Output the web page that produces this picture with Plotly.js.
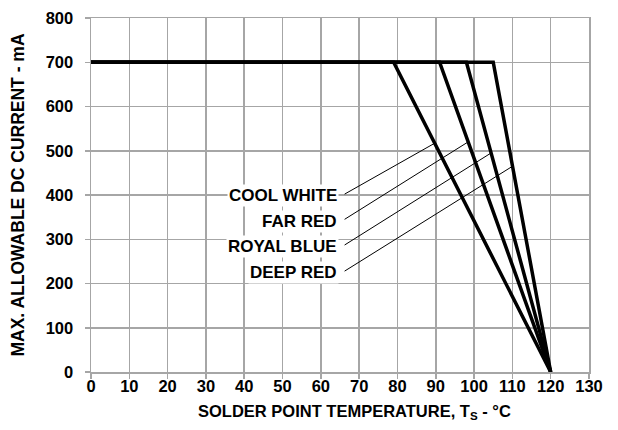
<!DOCTYPE html>
<html>
<head>
<meta charset="utf-8">
<script src="https://cdn.plot.ly/plotly-3.0.1.min.js"></script>
<style>html,body{margin:0;padding:0;background:#fff;}#chart{width:618px;height:430px;}</style>
</head>
<body>
<div id="chart"></div>
<script>
// Series data: derating curves (solder point temperature °C vs max current mA)
var seriesNames = ['COOL WHITE', 'FAR RED', 'ROYAL BLUE', 'DEEP RED'];
var kneeTemps = [79, 91, 98, 105];       // °C where derating begins
var maxCurrent = 700;                     // mA plateau
var zeroTemp = 120;                       // °C where current reaches 0
var startTemp = 0;

// Label positions (data units) and leader end currents
var labelCurrent = [398, 341, 283, 224];
var leaderEndCurrent = [517, 520, 495, 465];
var labelTemp = 64.8;

var xTitle = 'SOLDER POINT TEMPERATURE, T<sub>S</sub> - °C';
var yTitle = 'MAX. ALLOWABLE DC CURRENT - mA';

var traces = seriesNames.map(function (name, i) {
  return {
    x: [startTemp, kneeTemps[i], zeroTemp],
    y: [maxCurrent, maxCurrent, 0],
    mode: 'lines',
    name: name,
    line: {color: '#000000', width: 3.5},
    hoverinfo: 'skip'
  };
});

var shapes = [];
var annotations = [];
var F = 'Liberation Sans, Arial, sans-serif';
seriesNames.forEach(function (name, i) {
  var v = leaderEndCurrent[i];
  var xe = kneeTemps[i] + (maxCurrent - v) / maxCurrent * (zeroTemp - kneeTemps[i]);
  shapes.push({
    type: 'line', xref: 'x', yref: 'y',
    x0: labelTemp + 1.4, y0: labelCurrent[i] + 4,
    x1: xe, y1: v,
    line: {color: '#000000', width: 1}
  });
  annotations.push({
    x: labelTemp, y: labelCurrent[i], xref: 'x', yref: 'y',
    text: name, showarrow: false, xanchor: 'right', yanchor: 'middle',
    bgcolor: '#ffffff', borderpad: 1,
    font: {family: F, size: 17, color: '#000000', weight: 'bold'}
  });
});

// x-axis title (placed slightly right of centre, as in the reference)
annotations.push({
  xref: 'paper', yref: 'paper', x: 0.53, y: -0.112,
  xanchor: 'center', yanchor: 'middle', showarrow: false,
  text: xTitle,
  font: {family: F, size: 16.5, color: '#000000', weight: 'bold'}
});

var layout = {
  width: 618, height: 430,
  margin: {l: 91, r: 29, t: 18, b: 58},
  paper_bgcolor: '#ffffff', plot_bgcolor: '#ffffff',
  showlegend: false,
  xaxis: {
    range: [0, 130], dtick: 10, tick0: 0,
    showgrid: true, gridcolor: '#a6a6a6', gridwidth: 1.5,
    showline: true, linecolor: '#a6a6a6', linewidth: 1.5, mirror: true,
    ticks: 'outside', ticklen: 5, tickcolor: '#a6a6a6', tickwidth: 1.5,
    ticklabelstandoff: -6,
    zeroline: false,
    tickfont: {family: F, size: 16.5, color: '#000000', weight: 'bold'}
  },
  yaxis: {
    range: [0, 800], dtick: 100, tick0: 0,
    showgrid: true, gridcolor: '#a6a6a6', gridwidth: 1.5,
    showline: true, linecolor: '#a6a6a6', linewidth: 1.5, mirror: true,
    ticks: 'outside', ticklen: 5, tickcolor: '#a6a6a6', tickwidth: 1.5,
    ticklabelstandoff: 8,
    zeroline: false,
    tickfont: {family: F, size: 16.5, color: '#000000', weight: 'bold'},
    title: {text: yTitle, standoff: 16,
            font: {family: F, size: 17.5, color: '#000000', weight: 'bold'}}
  },
  shapes: shapes,
  annotations: annotations
};

Plotly.newPlot('chart', traces, layout, {displayModeBar: false, staticPlot: true});
</script>
</body>
</html>
